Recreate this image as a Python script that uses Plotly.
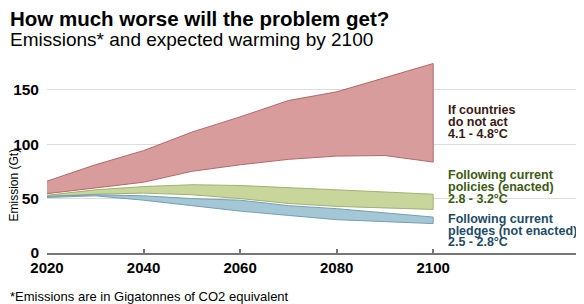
import plotly.graph_objects as go

years = [2020, 2030, 2040, 2050, 2060, 2070, 2080, 2090, 2100]
noact_hi = [66, 81, 94, 111, 125, 140, 148, 161, 174]
noact_lo = [54.5, 59.5, 65, 75, 81, 86, 89, 89.5, 83.5]
policy_hi = [53, 58, 61, 62.7, 62, 60, 58.4, 56, 54]
policy_lo = [52, 54, 55, 53.5, 50, 45.5, 42.8, 41.5, 40]
pledge_hi = [52, 53.5, 52.5, 50, 48.5, 43.5, 40.7, 37, 33]
pledge_lo = [51, 52.5, 48.5, 43.5, 38.5, 34.5, 30.6, 28.5, 27]

x_ticks = [2020, 2040, 2060, 2080, 2100]
y_ticks = [0, 50, 100, 150]

labels_noact = ["If countries", "do not act", "4.1 - 4.8°C"]
labels_policy = ["Following current", "policies (enacted)", "2.8 - 3.2°C"]
labels_pledge = ["Following current", "pledges (not enacted)", "2.5 - 2.8°C"]

FONT = "Liberation Sans, Arial, sans-serif"

fig = go.Figure()

def band(hi, lo, fill, line):
    fig.add_trace(go.Scatter(
        x=years + years[::-1], y=hi + lo[::-1],
        fill="toself", fillcolor=fill, mode="lines",
        line=dict(color=line, width=1), hoverinfo="skip", showlegend=False))

band(noact_hi, noact_lo, "rgb(217,156,156)", "rgb(178,104,104)")
band(policy_hi, policy_lo, "rgb(200,213,155)", "rgb(160,178,112)")
band(pledge_hi, pledge_lo, "rgb(163,199,213)", "rgb(118,158,178)")

# page body has an 8px margin, so the figure is shifted by 8px; compensate
fig.update_layout(
    width=576, height=296,
    margin=dict(l=39, r=6, t=48.5, b=51.3),
    paper_bgcolor="white", plot_bgcolor="white",
    font=dict(family=FONT, color="black"),
    xaxis=dict(range=[2020, 2130], tickvals=x_ticks, showgrid=False,
               ticks="inside", ticklen=4, tickcolor="#777", tickwidth=1.5,
               showline=True, linecolor="#777", linewidth=1.5,
               tickfont=dict(size=15, family=FONT, weight="bold"),
               ticklabelstandoff=0, zeroline=False, fixedrange=True),
    yaxis=dict(range=[0, 180], tickvals=y_ticks, showgrid=True,
               gridcolor="#dcdcdc", gridwidth=1, zeroline=False, showline=False,
               ticks="", tickfont=dict(size=15.5, family=FONT, weight="bold"),
               ticklabelstandoff=7, fixedrange=True),
)

ann = []
ann.append(dict(text="<b>How much worse will the problem get?</b>", xref="paper", yref="paper",
                x=0, y=1, xanchor="left", yanchor="top", xshift=-39, yshift=52,
                showarrow=False, font=dict(size=20.5, family=FONT, color="black")))
ann.append(dict(text="Emissions* and expected warming by 2100", xref="paper", yref="paper",
                x=0, y=1, xanchor="left", yanchor="top", xshift=-39, yshift=30.5,
                showarrow=False, font=dict(size=19, family=FONT, color="black")))
ann.append(dict(text="*Emissions are in Gigatonnes of CO2 equivalent", xref="paper", yref="paper",
                x=0, y=0, xanchor="left", yanchor="middle", xshift=-39, yshift=-43.3,
                showarrow=False, font=dict(size=13, family=FONT, color="black")))
ann.append(dict(text="Emission (Gt)", xref="paper", yref="y", x=0, y=62, xshift=-33,
                textangle=-90, showarrow=False, xanchor="center", yanchor="middle",
                font=dict(size=12, family=FONT, color="black")))

def block(lines, ys, color):
    for t, yv in zip(lines, ys):
        ann.append(dict(text="<b>%s</b>" % t, x=2102.6, y=yv, xref="x", yref="y",
                        xanchor="left", yanchor="middle", showarrow=False,
                        font=dict(size=12.5, family=FONT, color=color)))

block(labels_noact, [130.9, 119.9, 109.4], "#3a1a14")
block(labels_policy, [71.3, 60.3, 49.8], "#3d5a12")
block(labels_pledge, [31.0, 20.4, 10.0], "#1e4b66")

fig.update_layout(annotations=ann)
fig.write_html("out.html")
